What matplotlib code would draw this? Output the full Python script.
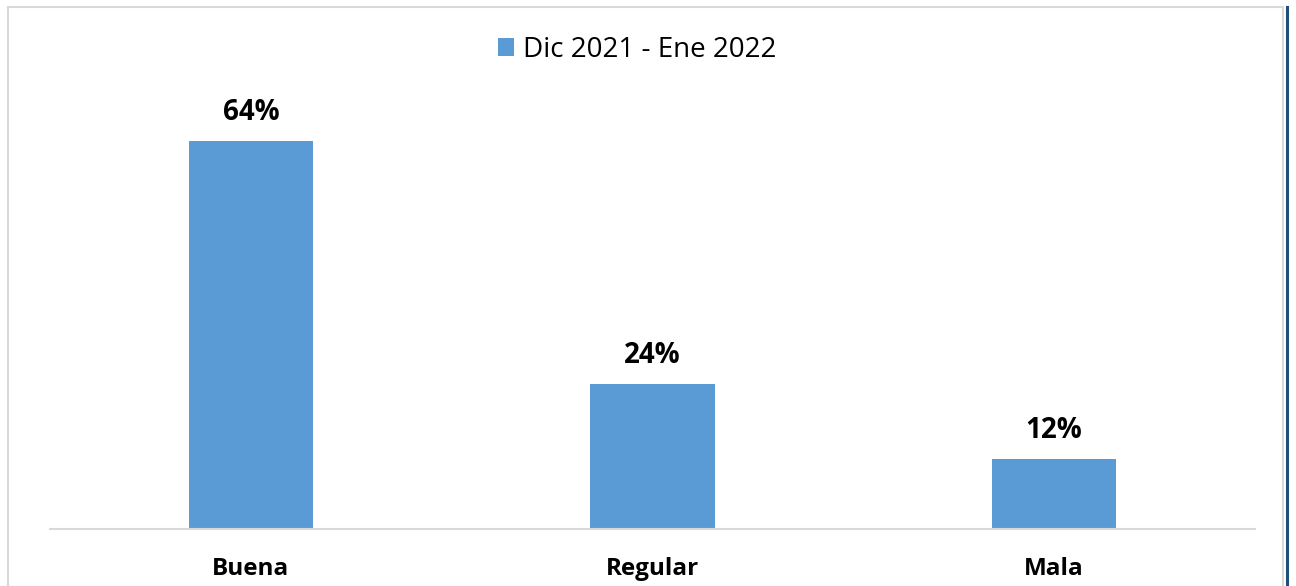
import matplotlib.pyplot as plt
from matplotlib.patches import Rectangle
from matplotlib.lines import Line2D

# datos
categorias = ["Buena", "Regular", "Mala"]
valores = [64, 24, 11.5]
etiquetas = ["64%", "24%", "12%"]
serie = "Dic 2021 - Ene 2022"

W, H = 1296, 586
fig = plt.figure(figsize=(W / 100, H / 100), dpi=100)
fig.patch.set_facecolor("white")
plt.rcParams["font.family"] = ["Open Sans", "DejaVu Sans"]

# marco del grafico
fig.add_artist(Rectangle((8 / W, -0.05), 1275 / W, 1.05 - 7 / H, transform=fig.transFigure,
                         fill=False, edgecolor="#d9d9d9", linewidth=1.5))
fig.add_artist(Line2D([1287 / W, 1287 / W], [0, 1 - 7 / H], transform=fig.transFigure,
                      color="#1f4e79", linewidth=2.2))

ax = fig.add_axes([50 / W, 1 - 529 / H, 1205 / W, 424 / H])
x = range(len(categorias))
bars = ax.bar(x, valores, width=0.31, color="#5b9bd5", label=serie)
ax.set_xlim(-0.5, len(categorias) - 0.5)
ax.set_ylim(0, 70)

for b, v, t in zip(bars, valores, etiquetas):
    ax.annotate(t, (b.get_x() + b.get_width() / 2, v), xytext=(0, 10),
                textcoords="offset points", ha="center", va="bottom",
                fontsize=20, fontweight="bold")

ax.set_xticks(list(x))
ax.set_xticklabels(categorias, fontsize=17.5, fontweight="bold")
ax.tick_params(axis="x", length=0, pad=20)
ax.set_yticks([])
for s in ["top", "right", "left"]:
    ax.spines[s].set_visible(False)
ax.spines["bottom"].set_color("#d9d9d9")
ax.spines["bottom"].set_linewidth(1.5)
ax.patch.set_alpha(0)

fig.legend(handles=[bars], labels=[serie], loc="center", bbox_to_anchor=(637 / W, 1 - 50 / H),
           frameon=False, fontsize=20, handlelength=0.6, handleheight=0.6, handletextpad=0.3)

fig.savefig("out.png", dpi=100)
